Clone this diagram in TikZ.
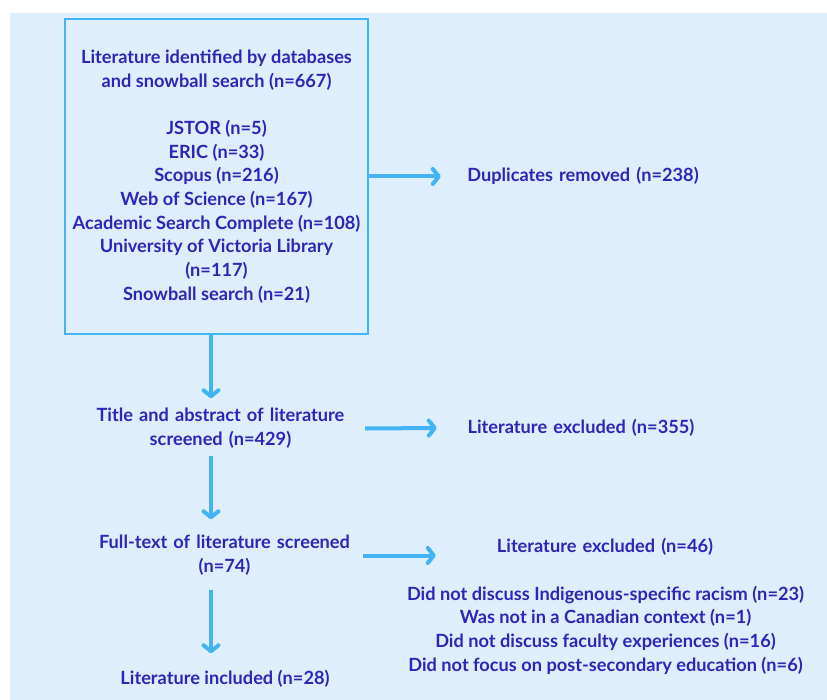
\documentclass[tikz,border=0pt]{standalone}
\usepackage{fontspec}
\setmainfont{Lato}
\usetikzlibrary{arrows.meta}

\definecolor{panel}{RGB}{222,238,252}
\definecolor{flow}{RGB}{66,180,243}
\definecolor{ink}{RGB}{42,40,182}

\begin{document}
\begin{tikzpicture}
   [x=1pt,y=-1pt,
    every node/.style={font=\fontsize{18.2}{23.7}\selectfont\bfseries, text=ink, inner sep=0pt, align=center},
    arr/.style={flow, line width=4pt, -{Straight Barb[length=6pt,width=15pt,line cap=round,line join=round]}}]
\useasboundingbox (0,0) rectangle (827,700);
\fill[panel] (10,13) rectangle (827,700);

\node[draw=flow, line width=2pt, minimum width=303pt, minimum height=315pt] (box) at (216.5,176.5)
   {Literature identified by databases\\and snowball search (n=667)\\[23.7pt]
    JSTOR (n=5)\\ERIC (n=33)\\Scopus (n=216)\\Web of Science (n=167)\\
    Academic Search Complete (n=108)\\University of Victoria Library\\(n=117)\\Snowball search (n=21)};
\node[text width=284pt] (dup) at (583,176) {Duplicates removed (n=238)};

\node[text width=289pt] (title) at (220.5,428.5) {Title and abstract of literature\\screened (n=429)};
\node[text width=288pt] (excl1) at (581,428) {Literature excluded (n=355)};

\node[text width=277pt] (full) at (224.5,555.5) {Full-text of literature screened\\(n=74)};
\node[text width=338pt] (excl2) at (605,547) {Literature excluded (n=46)};
\node (why) at (605.5,630) {Did not discuss Indigenous-specific racism (n=23)\\
    Was not in a Canadian context (n=1)\\Did not discuss faculty experiences (n=16)\\
    Did not focus on post-secondary education (n=6)};

\node (incl) at (225,679) {Literature included (n=28)};
\coordinate (spine) at (211,0);

\draw[arr] (box.east) -- (box.east -| dup.west);
\draw[arr] (title.east) -- (excl1.west);
\draw[arr] (full.east) -- (full.east -| excl2.west);
\draw[arr, shorten >=10pt] (box.south -| spine) -- (title.north -| spine);
\draw[arr, shorten <=7pt, shorten >=16pt] (title.south -| spine) -- (full.north -| spine);
\draw[arr, shorten <=14pt, shorten >=17pt] (full.south -| spine) -- (incl.north -| spine);
\end{tikzpicture}
\end{document}
